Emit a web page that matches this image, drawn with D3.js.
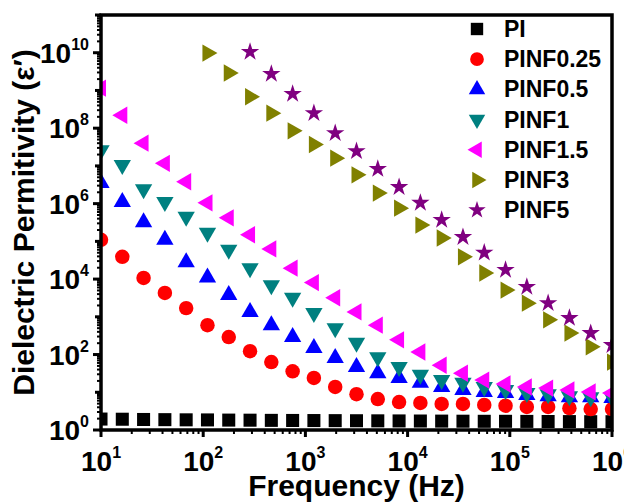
<!DOCTYPE html>
<html>
<head>
<meta charset="utf-8">
<script src="https://cdn.jsdelivr.net/npm/d3@7"></script>
<style>
  body { margin: 0; background: #fff; }
  svg { display: block; font-family: "Liberation Sans", Arial, sans-serif; font-weight: bold; }
</style>
</head>
<body>
<svg id="chart" width="624" height="502"></svg>
<script>
// frequencies (Hz), 25 log-spaced points from 10 Hz to 1 MHz
const freq = [10, 16.16, 26.1, 42.17, 68.13, 110.1, 177.8, 287.3, 464.2, 749.9,
  1211, 1957, 3162, 5109, 8254, 13335, 21544, 34807, 56234, 90852,
  146780, 237137, 383119, 618966, 1000000];

const PI = [1.95, 1.93, 1.9, 1.88, 1.86, 1.85, 1.83, 1.82, 1.8, 1.79, 1.78, 1.77, 1.76,
  1.75, 1.74, 1.73, 1.72, 1.71, 1.7, 1.7, 1.69, 1.68, 1.67, 1.66, 1.66];
const PINF025 = [1.1e5, 3.9e4, 1.07e4, 4.3e3, 1.7e3, 600, 290, 123, 63, 36, 24, 13.8,
  8.9, 6.6, 5.5, 5.2, 4.9, 4.9, 4.6, 4.4, 4.1, 4.1, 3.8, 3.6, 3.6];
const PINF05 = [3.5e6, 1.1e6, 3.2e5, 1.1e5, 2.8e4, 1.1e4, 3.8e3, 1.35e3, 600, 290, 148,
  81, 47, 32, 24, 18, 13.8, 11.5, 10.2, 9.5, 8.5, 7.9, 7.4, 7.4, 7.1];
const PINF1 = [2.6e7, 1.05e7, 2.4e6, 1.1e6, 4.5e5, 1.7e5, 6.0e4, 1.95e4, 6.9e3, 3.2e3,
  1.26e3, 500, 204, 85, 47, 29, 21, 17.8, 13.8, 11.5, 9.5, 8.9, 7.9, 7.4, 7.4];
const PINF15 = [1.15e9, 2.2e8, 4.0e7, 1.17e7, 3.8e6, 1.05e6, 4.2e5, 1.5e5, 6.3e4, 1.95e4,
  8.1e3, 3.2e3, 1.35e3, 600, 245, 117, 52, 32, 21, 16.6, 13.8, 12.9, 11.5, 10.2, 9.5];
const PINF3 = [null, null, null, null, null, 9.8e9, 2.9e9, 6.8e8, 2.5e8, 8.5e7, 3.7e7,
  1.6e7, 5.8e6, 1.9e6, 7.6e5, 2.7e5, 1.23e5, 3.9e4, 1.45e4, 5.1e3, 2.3e3, 830, 370, 160, 63];
const PINF5 = [null, null, null, null, null, null, null, 1.05e10, 2.75e9, 8.1e8, 2.5e8,
  7.4e7, 2.45e7, 8.3e6, 2.75e6, 1.05e6, 3.7e5, 1.3e5, 5.0e4, 1.75e4, 6.2e3, 2.3e3, 930, 370, 178];

const seriesNames = ['PI', 'PINF0.25', 'PINF0.5', 'PINF1', 'PINF1.5', 'PINF3', 'PINF5'];
const seriesValues = [PI, PINF025, PINF05, PINF1, PINF15, PINF3, PINF5];

const xTickExp = [1, 2, 3, 4, 5, 6];
const yTickExp = [0, 2, 4, 6, 8, 10];

const colors = ['#000000', '#ff0000', '#0000ff', '#008080', '#ff00ff', '#808000', '#800080'];
// symbol type, rotation, size
const shapes = [
  { type: d3.symbolSquare, rot: 0, size: 170 },
  { type: d3.symbolCircle, rot: 0, size: 165 },
  { type: d3.symbolTriangle, rot: 0, size: 130 },
  { type: d3.symbolTriangle, rot: 180, size: 130 },
  { type: d3.symbolTriangle, rot: -90, size: 130 },
  { type: d3.symbolTriangle, rot: 90, size: 130 },
  { type: d3.symbolStar, rot: 0, size: 105 },
];

const margin = { left: 101, right: 12, top: 15, bottom: 72 };
const width = 624;
const height = 502;
const innerRight = width - margin.right;
const innerBottom = height - margin.bottom;

const svg = d3.select('#chart');

const x = d3.scaleLog().domain([10, 1e6]).range([margin.left, innerRight]);
const y = d3.scaleLog().domain([1, 1e11]).range([innerBottom, margin.top]);

svg.append('clipPath').attr('id', 'plot-clip')
  .append('rect')
  .attr('x', margin.left).attr('y', margin.top)
  .attr('width', innerRight - margin.left)
  .attr('height', innerBottom - margin.top);

// minor ticks
const xMinor = [];
for (let e = 1; e < 6; e++) for (let m = 2; m <= 9; m++) xMinor.push(m * Math.pow(10, e));
const yMinor = [];
for (let e = 0; e < 11; e++) for (let m = 2; m <= 9; m++) yMinor.push(m * Math.pow(10, e));
const yMid = d3.range(1, 12, 2).map((e) => Math.pow(10, e));

const ticksG = svg.append('g').attr('stroke', '#000');

ticksG.selectAll('.x-minor').data(xMinor).join('line')
  .attr('x1', (d) => x(d)).attr('x2', (d) => x(d))
  .attr('y1', innerBottom).attr('y2', innerBottom + 4)
  .attr('stroke-width', 2);
ticksG.selectAll('.x-major').data(xTickExp).join('line')
  .attr('x1', (d) => x(Math.pow(10, d))).attr('x2', (d) => x(Math.pow(10, d)))
  .attr('y1', innerBottom).attr('y2', innerBottom + 7)
  .attr('stroke-width', 3);

ticksG.selectAll('.y-minor').data(yMinor).join('line')
  .attr('y1', (d) => y(d)).attr('y2', (d) => y(d))
  .attr('x1', margin.left).attr('x2', margin.left - 4)
  .attr('stroke-width', 2);
ticksG.selectAll('.y-mid').data(yMid).join('line')
  .attr('y1', (d) => y(d)).attr('y2', (d) => y(d))
  .attr('x1', margin.left).attr('x2', margin.left - 6)
  .attr('stroke-width', 3);
ticksG.selectAll('.y-major').data(yTickExp).join('line')
  .attr('y1', (d) => y(Math.pow(10, d))).attr('y2', (d) => y(Math.pow(10, d)))
  .attr('x1', margin.left).attr('x2', margin.left - 8)
  .attr('stroke-width', 3);

// tick labels
const xLab = svg.append('g').selectAll('text').data(xTickExp).join('text')
  .attr('x', (d) => x(Math.pow(10, d)))
  .attr('y', innerBottom + 41)
  .attr('text-anchor', 'middle')
  .attr('font-size', 28);
xLab.append('tspan').text('10');
xLab.append('tspan').attr('dy', -13).attr('font-size', 16).text((d) => d);

const yLab = svg.append('g').selectAll('text').data(yTickExp).join('text')
  .attr('x', margin.left - 12)
  .attr('y', (d) => y(Math.pow(10, d)) + 10)
  .attr('text-anchor', 'end')
  .attr('font-size', 28);
yLab.append('tspan').text('10');
yLab.append('tspan').attr('dy', -13).attr('font-size', 16).text((d) => d);

// axis titles
svg.append('text')
  .attr('x', (margin.left + innerRight) / 2)
  .attr('y', 496)
  .attr('text-anchor', 'middle')
  .attr('font-size', 30)
  .text('Frequency (Hz)');

svg.append('text')
  .attr('transform', `translate(34,${(margin.top + innerBottom) / 2}) rotate(-90)`)
  .attr('text-anchor', 'middle')
  .attr('font-size', 30)
  .text('Dielectric Permitivity (ε′)');

// data points
const pointsG = svg.append('g').attr('clip-path', 'url(#plot-clip)');
seriesValues.forEach((vals, i) => {
  const sym = d3.symbol().type(shapes[i].type).size(shapes[i].size);
  pointsG.append('g')
    .attr('fill', colors[i])
    .selectAll('path')
    .data(vals.map((v, k) => ({ f: freq[k], v })).filter((d) => d.v != null))
    .join('path')
    .attr('d', sym)
    .attr('transform', (d) => `translate(${x(d.f)},${y(d.v)}) rotate(${shapes[i].rot})`);
});

// frame
svg.append('rect')
  .attr('x', margin.left).attr('y', margin.top)
  .attr('width', innerRight - margin.left)
  .attr('height', innerBottom - margin.top)
  .attr('fill', 'none')
  .attr('stroke', '#000')
  .attr('stroke-width', 3.5);

// legend
const legend = svg.append('g').selectAll('g').data(seriesNames).join('g')
  .attr('transform', (d, i) => `translate(477,${29 + i * 30.2})`);
legend.append('path')
  .attr('d', (d, i) => d3.symbol().type(shapes[i].type).size(shapes[i].size * 0.9)())
  .attr('transform', (d, i) => `rotate(${shapes[i].rot})`)
  .attr('fill', (d, i) => colors[i]);
legend.append('text')
  .attr('x', 27)
  .attr('y', 8)
  .attr('font-size', 23)
  .text((d) => d);
</script>
</body>
</html>
